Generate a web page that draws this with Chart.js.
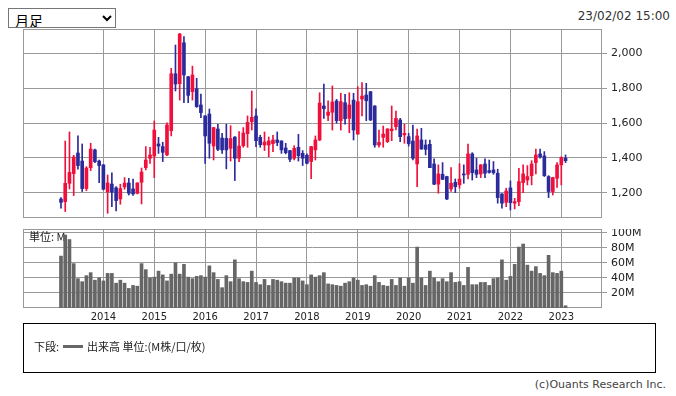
<!DOCTYPE html>
<html lang="ja">
<head>
<meta charset="utf-8">
<script src="https://cdn.jsdelivr.net/npm/chart.js@4.4.1/dist/chart.umd.min.js"></script>
<style>
  body { margin: 0; width: 676px; height: 396px; background: #fff; position: relative; overflow: hidden; font-family: "DejaVu Sans", sans-serif; }
  #period { position: absolute; left: 8px; top: 8px; width: 108px; height: 20px; font: 14px "Noto Sans CJK JP", sans-serif; padding: 0 2px; border: 1px solid #767676; background: #fff; color: #000; }
  #stamp { position: absolute; right: 6px; top: 9px; font: 12px "DejaVu Sans", sans-serif; color: #333; }
  #priceWrap { position: absolute; left: 23px; top: 29px; width: 653px; height: 189px; }
  #volWrap { position: absolute; left: 23px; top: 229px; width: 653px; height: 96px; }
  #legendBox { position: absolute; left: 23px; top: 323px; width: 631px; height: 48px; border: 1px solid #000; font: 11px "Noto Sans CJK JP", sans-serif; color: #222; }
  #legendBox .lbl { position: absolute; left: 10px; top: 14px; }
  #legendBox .line { position: absolute; left: 39px; top: 21px; width: 20px; height: 3px; background: #666; }
  #legendBox .txt { position: absolute; left: 63px; top: 14px; }
  #copy { position: absolute; right: 10px; top: 378px; font: 11px "DejaVu Sans", sans-serif; color: #444; }
</style>
</head>
<body>
<select id="period"><option>月足</option><option>週足</option><option>日足</option></select>
<div id="stamp">23/02/02 15:00</div>
<div id="priceWrap"><canvas id="priceChart"></canvas></div>
<div id="volWrap"><canvas id="volChart"></canvas></div>
<div id="legendBox">
  <span class="lbl">下段:</span><span class="line"></span><span class="txt">出来高 単位:(M株/口/枚)</span>
</div>
<div id="copy">(c)Ouants Research Inc.</div>
<script>
// Monthly candles, 2013/03 .. 2023/02
const startMonth = 3;
const years = ['2014', '2015', '2016', '2017', '2018', '2019', '2020', '2021', '2022', '2023'];

const opens = [1164, 1149, 1254, 1310, 1428, 1382, 1224, 1344, 1446, 1382,
  1360, 1205, 1250, 1228, 1164, 1233, 1256, 1222, 1197, 1260,
  1344, 1398, 1411, 1480, 1465, 1417, 1556, 1883, 1826, 2061,
  1866, 1780, 1797, 1704, 1641, 1652, 1468, 1566, 1514, 1512,
  1455, 1520, 1398, 1470, 1539, 1608, 1641, 1518, 1474, 1474,
  1482, 1503, 1497, 1457, 1442, 1398, 1461, 1426, 1415, 1379,
  1446, 1503, 1698, 1644, 1662, 1727, 1614, 1717, 1627, 1732,
  1537, 1738, 1761, 1780, 1698, 1474, 1518, 1493, 1556, 1579,
  1618, 1532, 1522, 1497, 1365, 1503, 1474, 1478, 1365, 1249,
  1306, 1293, 1222, 1260, 1245, 1308, 1306, 1423, 1331, 1308,
  1365, 1327, 1331, 1312, 1193, 1145, 1228, 1140, 1149, 1258,
  1273, 1298, 1373, 1423, 1411, 1293, 1207, 1283, 1360, 1398];
const highs = [1172, 1497, 1549, 1415, 1526, 1480, 1350, 1484, 1450, 1388,
  1362, 1302, 1315, 1235, 1249, 1287, 1283, 1279, 1258, 1342,
  1465, 1461, 1612, 1518, 1490, 1602, 1914, 2048, 2115, 2096,
  1868, 1927, 1857, 1767, 1643, 1681, 1576, 1593, 1541, 1593,
  1585, 1522, 1551, 1574, 1641, 1784, 1681, 1530, 1549, 1520,
  1530, 1549, 1499, 1484, 1444, 1470, 1535, 1442, 1423, 1467,
  1526, 1774, 1824, 1727, 1813, 1736, 1771, 1765, 1774, 1771,
  1809, 1832, 1828, 1782, 1700, 1560, 1583, 1568, 1698, 1669,
  1627, 1593, 1541, 1589, 1566, 1570, 1503, 1503, 1394, 1360,
  1373, 1295, 1344, 1279, 1367, 1360, 1480, 1430, 1398, 1362,
  1394, 1388, 1379, 1335, 1195, 1226, 1268, 1168, 1340, 1360,
  1356, 1384, 1451, 1451, 1436, 1298, 1289, 1373, 1407, 1417];
const lows = [1111, 1092, 1222, 1184, 1335, 1207, 1212, 1327, 1373, 1258,
  1216, 1082, 1120, 1096, 1134, 1220, 1187, 1185, 1193, 1136,
  1331, 1369, 1287, 1426, 1379, 1413, 1526, 1784, 1732, 1717,
  1717, 1732, 1690, 1631, 1369, 1398, 1388, 1442, 1426, 1337,
  1382, 1270, 1379, 1461, 1461, 1560, 1465, 1461, 1442, 1407,
  1436, 1470, 1426, 1423, 1379, 1388, 1382, 1356, 1365, 1281,
  1388, 1499, 1627, 1614, 1560, 1599, 1560, 1593, 1545, 1503,
  1535, 1641, 1614, 1614, 1461, 1461, 1461, 1488, 1499, 1560,
  1493, 1484, 1468, 1388, 1235, 1449, 1417, 1344, 1247, 1197,
  1275, 1160, 1207, 1201, 1226, 1254, 1279, 1273, 1287, 1287,
  1287, 1312, 1306, 1140, 1111, 1120, 1101, 1107, 1126, 1201,
  1245, 1245, 1308, 1398, 1293, 1172, 1187, 1231, 1245, 1373];
const closes = [1145, 1254, 1317, 1405, 1356, 1224, 1342, 1451, 1379, 1356,
  1220, 1256, 1203, 1155, 1224, 1256, 1197, 1193, 1256, 1319,
  1388, 1417, 1560, 1468, 1432, 1589, 1883, 1824, 2111, 1876,
  1759, 1876, 1694, 1660, 1526, 1484, 1574, 1449, 1446, 1446,
  1511, 1398, 1468, 1543, 1604, 1633, 1499, 1476, 1491, 1497,
  1503, 1488, 1446, 1430, 1392, 1455, 1413, 1398, 1369, 1465,
  1503, 1715, 1683, 1663, 1721, 1614, 1723, 1625, 1704, 1560,
  1723, 1755, 1728, 1618, 1474, 1489, 1537, 1566, 1566, 1627,
  1522, 1541, 1482, 1398, 1526, 1451, 1449, 1344, 1249, 1308,
  1277, 1164, 1254, 1235, 1279, 1302, 1423, 1315, 1306, 1360,
  1312, 1317, 1315, 1172, 1140, 1210, 1143, 1149, 1264, 1308,
  1293, 1365, 1417, 1407, 1298, 1207, 1287, 1360, 1402, 1384];

// Volume in millions
const volumes = [69, 97, 91, 59, 39, 35, 43, 47, 37, 40,
  36, 46, 46, 33, 37, 33, 26, 30, 29, 59,
  51, 40, 41, 49, 44, 36, 45, 60, 45, 58,
  41, 39, 42, 43, 41, 56, 47, 38, 27, 43,
  35, 64, 39, 35, 34, 49, 34, 31, 38, 30,
  38, 37, 35, 33, 33, 40, 40, 36, 31, 44,
  41, 43, 47, 32, 31, 30, 29, 33, 35, 40,
  37, 30, 31, 29, 43, 34, 30, 29, 38, 30,
  40, 29, 40, 33, 81, 40, 30, 49, 40, 35,
  39, 35, 47, 34, 35, 30, 54, 31, 31, 34,
  34, 30, 39, 40, 64, 37, 42, 58, 81, 85,
  57, 49, 55, 46, 43, 70, 47, 46, 49, 3];

const priceTicks = [1200, 1400, 1600, 1800, 2000];
const volTicks = [20, 40, 60, 80, 100];

const UP = '#f0103c';
const DOWN = '#2b2b9c';
const GRID = '#999';
const firstJan = 13 - startMonth; // index of the first January
const xMin = -8.96, xMax = 127.6;

const upDown = opens.map((o, i) => closes[i] >= o ? UP : DOWN);

// Frame around the plot area
const plotFrame = {
  id: 'plotFrame',
  beforeDatasetsDraw(chart) {
    const a = chart.chartArea, ctx = chart.ctx;
    ctx.save();
    ctx.strokeStyle = GRID;
    ctx.lineWidth = 1;
    ctx.strokeRect(a.left + 0.5, a.top + 0.5, a.right - a.left - 1, a.bottom - a.top - 1);
    if (chart.options.plugins.plotFrame && chart.options.plugins.plotFrame.note) {
      ctx.fillStyle = '#222';
      ctx.font = '11px "Noto Sans CJK JP", sans-serif';
      ctx.textBaseline = 'middle';
      ctx.fillText(chart.options.plugins.plotFrame.note, a.left + 6, a.top + 8);
    }
    ctx.restore();
  }
};

function xAxis(showLabels) {
  return {
    type: 'linear',
    min: xMin,
    max: xMax,
    offset: false,
    afterBuildTicks: s => { s.ticks = years.map((y, k) => ({ value: firstJan + 12 * k })); },
    afterFit: s => { s.height = showLabels ? 17 : 0; s.paddingLeft = 0; s.paddingRight = 0; },
    grid: { color: GRID, drawTicks: false, offset: false },
    border: { display: false },
    ticks: {
      display: showLabels,
      autoSkip: false,
      maxRotation: 0,
      padding: 3,
      color: '#222',
      font: { family: 'DejaVu Sans', size: 10 },
      callback: (v, idx) => years[idx]
    }
  };
}

function yAxis(min, max, ticks, fmt) {
  return {
    position: 'right',
    min: min,
    max: max,
    afterBuildTicks: s => { s.ticks = ticks.map(v => ({ value: v })); },
    afterFit: s => { s.width = 74; s.paddingTop = 0; s.paddingBottom = 0; },
    grid: { color: GRID, tickLength: 5 },
    border: { display: false },
    ticks: { padding: 4, color: '#222', font: { family: 'DejaVu Sans', size: 11 }, callback: fmt }
  };
}

const common = {
  responsive: true,
  maintainAspectRatio: false,
  animation: false,
  events: [],
  layout: { padding: 0 }
};

new Chart(document.getElementById('priceChart'), {
  type: 'bar',
  data: {
    datasets: [{
      label: 'wick',
      data: highs.map((h, i) => ({ x: i, y: [lows[i], h] })),
      backgroundColor: upDown,
      barThickness: 1,
      grouped: false
    }, {
      label: 'body',
      data: opens.map((o, i) => ({ x: i, y: [o, closes[i]] })),
      backgroundColor: upDown,
      barThickness: 3,
      minBarLength: 1,
      grouped: false
    }]
  },
  options: {
    ...common,
    plugins: { legend: { display: false }, tooltip: { enabled: false }, plotFrame: {} },
    scales: {
      x: xAxis(false),
      y: yAxis(1055, 2140, priceTicks, v => v.toLocaleString('en-US'))
    }
  },
  plugins: [plotFrame]
});

new Chart(document.getElementById('volChart'), {
  type: 'bar',
  data: {
    datasets: [{
      label: '出来高',
      data: volumes.map((v, i) => ({ x: i, y: v })),
      backgroundColor: '#666',
      barThickness: 3
    }]
  },
  options: {
    ...common,
    plugins: { legend: { display: false }, tooltip: { enabled: false }, plotFrame: { note: '単位: M' } },
    scales: {
      x: xAxis(true),
      y: yAxis(0, 105, volTicks, v => v + 'M')
    }
  },
  plugins: [plotFrame]
});
</script>
</body>
</html>
